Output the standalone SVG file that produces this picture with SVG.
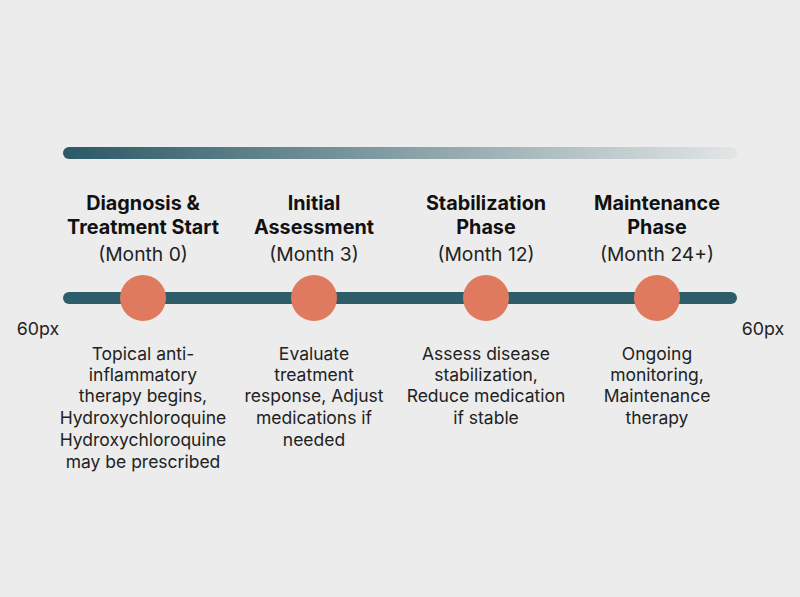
<svg xmlns="http://www.w3.org/2000/svg" width="800" height="597" viewBox="0 0 800 597">
<defs>
<linearGradient id="g" x1="0" x2="1" y1="0" y2="0"><stop offset="0" stop-color="#2a5965"/><stop offset="1" stop-color="#e2e5e5"/></linearGradient>
<style>
.t{font-family:Inter,"Liberation Sans",sans-serif;font-size:19.8px;font-weight:700;fill:#111;text-anchor:middle}
.s{font-family:Inter,"Liberation Sans",sans-serif;font-size:19.3px;fill:#222;text-anchor:middle}
.p{font-family:Inter,"Liberation Sans",sans-serif;font-size:17.8px;fill:#222;text-anchor:middle}
.d{font-family:Inter,"Liberation Sans",sans-serif;font-size:17.5px;fill:#222;text-anchor:middle}
.c{fill:#e07a5f}
</style>
</defs>
<rect width="800" height="597" fill="#ececec"/>
<rect x="63" y="147" width="674" height="12" rx="6" fill="url(#g)"/>
<g id="connectors"><rect x="63" y="292" width="674" height="12" rx="6" fill="#2c5d69"/></g>
<text class="p" x="38" y="335">60px</text>
<text class="p" x="763" y="335">60px</text>
<g id="n1"><circle class="c" cx="143" cy="298" r="23"/>
<text class="t" x="143" y="210">Diagnosis &amp;</text><text class="t" x="143" y="234">Treatment Start</text><text class="s" x="143" y="261">(Month 0)</text>
<text class="d" x="143" y="360">Topical anti-</text><text class="d" x="143" y="381">inflammatory</text><text class="d" x="143" y="402">therapy begins,</text><text class="d" x="143" y="424">Hydroxychloroquine</text><text class="d" x="143" y="446">Hydroxychloroquine</text><text class="d" x="143" y="468">may be prescribed</text></g>
<g id="n2"><circle class="c" cx="314" cy="298" r="23"/>
<text class="t" x="314" y="210">Initial</text><text class="t" x="314" y="234">Assessment</text><text class="s" x="314" y="261">(Month 3)</text>
<text class="d" x="314" y="360">Evaluate</text><text class="d" x="314" y="381">treatment</text><text class="d" x="314" y="402">response, Adjust</text><text class="d" x="314" y="424">medications if</text><text class="d" x="314" y="446">needed</text></g>
<g id="n3"><circle class="c" cx="486" cy="298" r="23"/>
<text class="t" x="486" y="210">Stabilization</text><text class="t" x="486" y="234">Phase</text><text class="s" x="486" y="261">(Month 12)</text>
<text class="d" x="486" y="360">Assess disease</text><text class="d" x="486" y="381">stabilization,</text><text class="d" x="486" y="402">Reduce medication</text><text class="d" x="486" y="424">if stable</text></g>
<g id="n4"><circle class="c" cx="657" cy="298" r="23"/>
<text class="t" x="657" y="210">Maintenance</text><text class="t" x="657" y="234">Phase</text><text class="s" x="657" y="261">(Month 24+)</text>
<text class="d" x="657" y="360">Ongoing</text><text class="d" x="657" y="381">monitoring,</text><text class="d" x="657" y="402">Maintenance</text><text class="d" x="657" y="424">therapy</text></g>
</svg>
